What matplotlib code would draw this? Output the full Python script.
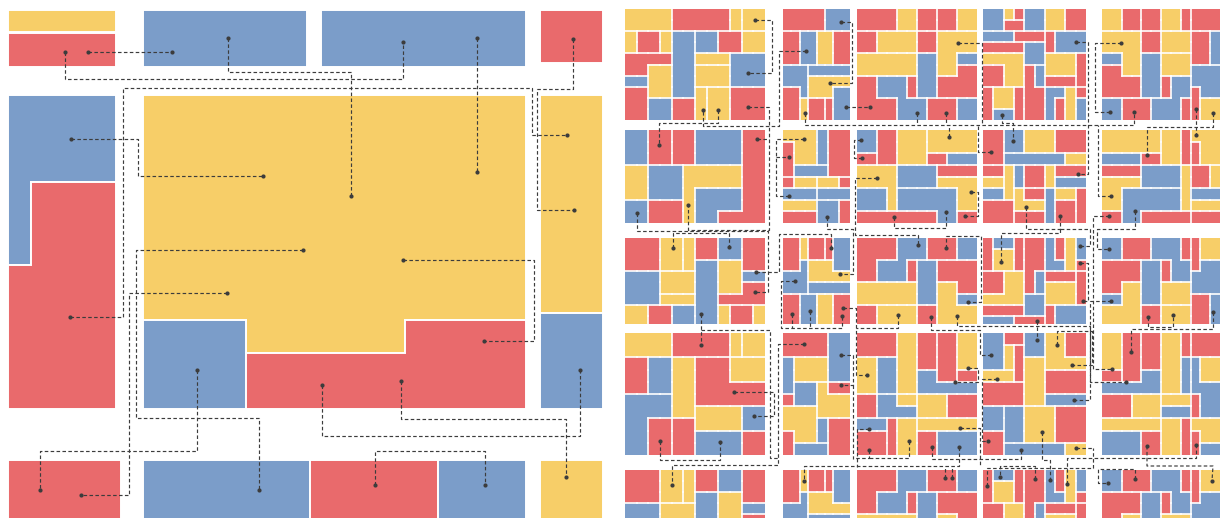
import matplotlib
matplotlib.use("Agg")
import matplotlib.pyplot as plt
import matplotlib.colors as mcolors
import numpy as np
from matplotlib.patches import Polygon, Rectangle
from matplotlib.collections import LineCollection

RED = "#e96a6c"
YELLOW = "#f7ce68"
BLUE = "#7b9dc9"
INK = "#3c3c3c"

palette = {}
for ch in "rRsStT":
    palette[ch] = RED
for ch in "yYzZwW":
    palette[ch] = YELLOW
for ch in "bBcCdD":
    palette[ch] = BLUE

# ---- left panel: big blocks (colour code, outline in pixel units) ----
left_codes = ["y", "r", "b", "b", "r", "b", "r", "y", "b", "r", "y", "b",
              "r", "b", "r", "b", "y"]
left_outlines = [
    [(8, 10), (116, 10), (116, 32), (8, 32)],
    [(8, 33), (116, 33), (116, 67), (8, 67)],
    [(143, 10), (307, 10), (307, 67), (143, 67)],
    [(321, 10), (526, 10), (526, 67), (321, 67)],
    [(540, 10), (603, 10), (603, 63), (540, 63)],
    [(8, 95), (116, 95), (116, 182), (31, 182), (31, 265), (8, 265)],
    [(31, 182), (116, 182), (116, 409), (8, 409), (8, 265), (31, 265)],
    [(143, 95), (526, 95), (526, 320), (405, 320), (405, 353), (246, 353),
     (246, 320), (143, 320)],
    [(143, 320), (246, 320), (246, 409), (143, 409)],
    [(246, 353), (405, 353), (405, 320), (526, 320), (526, 409), (246, 409)],
    [(540, 95), (603, 95), (603, 313), (540, 313)],
    [(540, 313), (603, 313), (603, 409), (540, 409)],
    [(8, 460), (121, 460), (121, 530), (8, 530)],
    [(143, 460), (310, 460), (310, 530), (143, 530)],
    [(310, 460), (438, 460), (438, 530), (310, 530)],
    [(438, 460), (526, 460), (526, 530), (438, 530)],
    [(540, 460), (603, 460), (603, 530), (540, 530)],
]

left_links = [
    [(65, 52), (65, 79), (403, 79), (403, 42)],
    [(88, 52), (172, 52)],
    [(228, 38), (228, 72), (351, 72), (351, 196)],
    [(477, 38), (477, 172)],
    [(573, 39), (573, 89), (537, 89), (537, 210), (574, 210)],
    [(70, 317), (123, 317), (123, 88), (532, 88), (532, 135), (567, 135)],
    [(71, 139), (138, 139), (138, 176), (263, 176)],
    [(303, 250), (136, 250), (136, 418), (259, 418), (259, 490)],
    [(403, 260), (534, 260), (534, 341), (484, 341)],
    [(227, 293), (129, 293), (129, 495), (81, 495)],
    [(197, 370), (197, 451), (40, 451), (40, 490)],
    [(322, 385), (322, 436), (580, 436), (580, 370)],
    [(401, 381), (401, 419), (566, 419), (566, 477)],
    [(375, 485), (375, 451), (485, 451), (485, 485)],
]

# ---- right panel: 5 x 5 mosaic of small treemaps ----
col_spans = [(625, 765), (783, 850), (857, 977), (983, 1086), (1102, 1220)]
row_spans = [(9, 120), (130, 223), (238, 324), (333, 455), (470, 518)]

grids = {
    (0, 0): ["yyyyrrrrrYzz", "yyyyrrrrrYzz", "zrrYbbBBssZZ", "zrrYbbBBssZZ",
             "ttttbbwwwccc", "ttWWbbyyyccc", "ddWWbbyyyccc", "rrWWbbzYYsss",
             "rrCCTTzYYsss", "rrCCTTzYYsss"],
    (0, 1): ["rrrrrbbb", "rrrrrbbb", "ssBBYYtt", "ssBBYYtt", "ssBBYYtt",
             "cccddddd", "cccwwwww", "rrcwwwbb", "rrySSTbb", "rrySSTbb"],
    (0, 2): ["rrrryyttSSzz", "rrrryyttSSzz", "sswwwwRRYYYY", "sswwwwRRYYYY",
             "ZZZZZZBBYYbb", "ZZZZZZBBYYTT", "rrcccRBBTTTT", "rrcccRBBTTTT",
             "rrrrcccSSSdd", "rrrrcccSSSdd"],
    (0, 3): ["bbyrBBYYRR", "bbssBBYYRR", "ccctttSddd", "rrrrbbSddd",
             "wwwwbbyyyT", "RRwwscyyyT", "RRwwscrrrT", "SzztssBBYR",
             "SzztssBTYb", "ScctssBTYb"],
    (0, 4): ["yyrrssYYtRRR", "yyrrssYYtRRR", "zzzzSSwwwrrb", "zzzzSSwwwrrb",
             "cczzBBWWWrrb", "TTzzBBWWWddd", "TTTTBBRCCddd", "TTTTBBRCCsdd",
             "bbrrrCCCtsyy", "bbrrrCCCtsyy"],
    (1, 0): ["bbrrssBBBBRR", "bbrrssBBBBRR", "bbrrssBBBBRR", "yycccwwwwwRR",
             "yycccwwwwwRR", "yycccwddddRR", "CCtttwddddRR", "CCtttwddRRRR"],
    (1, 1): ["yyybrr", "syybrr", "syybrr", "scccrr", "RYYzzt", "BBBddd",
             "wwwCCT", "SSSCCT"],
    (1, 2): ["bbrryyyzzzzz", "bbrryyyzzzzz", "ssrryyyttBBB", "wwwwccccRRRR",
             "wwwwccccYYYY", "dddwCCCCCCYY", "dddwCCCCCCYY", "SSSSSSSSCCTT"],
    (1, 3): ["rrbbyyysss", "rrbbyyysss", "rrBBBBBBYY", "ttwcRRzTTT",
             "ZZwcRRzCCC", "ddwWSSDyyR", "rrrWWWDssR", "rrrTTTDssR"],
    (1, 4): ["yyyyyyYYrzzz", "yyyyyyYYrszz", "bbbbRRYYrszz", "ttttccccwTTW",
             "ZZZZccccwTTW", "ZZCCCCCCwBBB", "ZZCCCCCCwyyy", "SSCCRRRRRrrr"],
    (3, 0): ["yyyyrrrrrYzz", "yyyyrrrrrYzz", "ssbbwwRRRZZZ", "ssbbwwRRRZZZ",
             "ssbbwwRRRRRR", "ccccwwRRRRRR", "ccccwwWWWWBB", "ccttTTWWWWBB",
             "ccttTTCCCCSS", "ccttTTCCCCSS"],
    (3, 1): ["rrrrbb", "rrrrbb", "cyyybb", "cyyybb", "cBBYRR", "sBBYYY",
             "wwwYYY", "wwwCSS", "twwCSS", "tdddSS"],
    (3, 2): ["rrrryyssttzz", "rrrryyssttzz", "YYbbyyssttzz", "YYbbyyBBttRR",
             "YYbbyyBBBBBB", "SSccwwWWWTTT", "SSccccWWWTTT", "dddRZZyyyyyy",
             "rrrRZZssCCCC", "rrrRZZssCCCC"],
    (3, 3): ["bbrrBByyss", "bbYRBByyss", "bbYRzzyyyy", "wwwRzztttt",
             "SSSSzztttt", "SSSSzzcccc", "ddCCZZZTTT", "ddCCZZZTTT",
             "rrCCZZZTTT", "rrDDDDDDWW"],
    (3, 4): ["yyrrssYYtRRR", "yyrrssYYtRRR", "yyrrssYYbBzz", "SSrrccYYbBzz",
             "ccccccYYbBBB", "TTTwwwWWWRBB", "TTTwwwCCCRBB", "ZZZZZZyyszzz",
             "ddddSSyystzz", "ddddSSyystDD"],
}

right_links = [
    [(755, 20), (772, 20), (772, 73), (748, 73)],
    [(841, 22), (852, 22), (852, 83), (830, 83)],
    [(806, 51), (779, 51), (779, 126), (703, 126), (703, 110)],
    [(718, 110), (718, 123), (659, 123), (659, 145)],
    [(748, 107), (769, 107), (769, 230), (688, 230), (688, 205)],
    [(846, 107), (870, 107)],
    [(805, 113), (805, 125), (1134, 125), (1134, 112)],
    [(917, 113), (917, 125)],
    [(946, 113), (946, 125)],
    [(958, 43), (982, 43), (982, 125)],
    [(1076, 42), (1088, 42), (1088, 174), (1078, 174)],
    [(1002, 115), (1002, 123), (1013, 123), (1013, 141)],
    [(1121, 43), (1095, 43), (1095, 112), (1110, 112)],
    [(1196, 109), (1196, 135)],
    [(1213, 113), (1213, 127), (1147, 127), (1147, 155)],
    [(757, 139), (769, 139)],
    [(804, 139), (776, 139), (776, 196), (789, 196)],
    [(776, 157), (789, 157)],
    [(827, 217), (827, 229), (853, 229), (853, 274), (840, 274)],
    [(861, 140), (854, 140), (854, 158), (862, 158)],
    [(949, 137), (949, 125)],
    [(991, 152), (978, 152), (978, 125)],
    [(877, 178), (855, 178), (855, 235), (918, 235), (918, 245)],
    [(894, 217), (894, 228), (946, 228), (946, 212)],
    [(971, 192), (978, 192), (978, 216), (965, 216)],
    [(1026, 207), (1026, 229), (1060, 229), (1060, 216)],
    [(1001, 262), (1001, 233), (1060, 233), (1060, 229)],
    [(1111, 196), (1098, 196), (1098, 125)],
    [(1109, 216), (1093, 216), (1093, 369), (1112, 369)],
    [(1135, 211), (1135, 229), (1097, 229), (1097, 249), (1109, 249)],
    [(673, 248), (673, 233), (729, 233), (729, 247)],
    [(637, 213), (637, 231), (768, 231), (768, 292), (755, 292)],
    [(756, 272), (779, 272), (779, 234), (831, 234), (831, 248)],
    [(795, 281), (781, 281), (781, 328), (842, 328), (842, 316)],
    [(792, 314), (792, 328)],
    [(810, 311), (810, 328)],
    [(843, 308), (856, 308), (856, 375), (867, 375)],
    [(946, 248), (946, 236), (981, 236), (981, 302), (968, 302)],
    [(898, 315), (898, 328), (856, 328)],
    [(931, 317), (931, 330), (980, 330), (980, 355), (991, 355)],
    [(957, 316), (957, 326), (1090, 326), (1090, 400), (1074, 400)],
    [(1037, 321), (1037, 340)],
    [(1080, 246), (1090, 246), (1090, 229), (1060, 229)],
    [(1080, 263), (1088, 263), (1088, 301), (1083, 301)],
    [(1111, 301), (1090, 301), (1090, 382), (1126, 382)],
    [(1148, 317), (1148, 327), (1173, 327), (1173, 315)],
    [(1213, 312), (1213, 329), (1131, 329), (1131, 352)],
    [(701, 314), (701, 345)],
    [(701, 330), (770, 330), (770, 458), (778, 458)],
    [(804, 344), (778, 344), (778, 465), (672, 465), (672, 485)],
    [(734, 392), (774, 392), (774, 416), (754, 416)],
    [(660, 441), (660, 460), (720, 460), (720, 442)],
    [(841, 355), (853, 355), (853, 385), (841, 385)],
    [(853, 385), (853, 459)],
    [(869, 429), (857, 429), (857, 467)],
    [(869, 450), (869, 458), (853, 458)],
    [(909, 441), (909, 458), (869, 458)],
    [(968, 368), (978, 368), (978, 382), (955, 382)],
    [(997, 379), (982, 379), (982, 441), (988, 441)],
    [(932, 447), (932, 459), (1021, 459), (1021, 450)],
    [(960, 428), (980, 428), (980, 466)],
    [(959, 447), (959, 466), (804, 466), (804, 481)],
    [(945, 478), (945, 466)],
    [(952, 478), (952, 466)],
    [(1057, 345), (1057, 331), (1092, 331), (1092, 365), (1072, 365)],
    [(1076, 448), (1093, 448)],
    [(1042, 432), (1042, 460), (1050, 460), (1050, 480)],
    [(1035, 479), (1035, 466), (1000, 466), (1000, 477)],
    [(987, 486), (987, 468), (1093, 468), (1093, 448)],
    [(1067, 484), (1067, 458), (1196, 458), (1196, 445)],
    [(1147, 446), (1147, 466), (1213, 466), (1212, 481)],
    [(1135, 479), (1135, 469), (1098, 469), (1098, 483), (1108, 483)],
]

right_dots = [
    (755, 20), (748, 73), (841, 22), (830, 83), (806, 51), (703, 110),
    (718, 110), (748, 107), (846, 107), (805, 113), (870, 107), (917, 113),
    (946, 113), (958, 43), (1076, 42), (1002, 115), (1121, 43), (1110, 112),
    (1134, 112), (1196, 109), (1213, 113),
    (659, 145), (757, 139), (804, 139), (789, 157), (789, 196), (688, 205),
    (637, 213), (827, 217), (861, 140), (862, 158), (949, 137), (877, 178),
    (894, 217), (946, 212), (971, 192), (965, 216), (991, 152), (1013, 141),
    (1078, 174), (1026, 207), (1060, 216), (1196, 135), (1147, 155),
    (1111, 196), (1109, 216), (1135, 211),
    (673, 248), (729, 247), (756, 272), (755, 292), (795, 281), (792, 314),
    (810, 311), (842, 316), (840, 274), (843, 308), (701, 314), (831, 248),
    (918, 245), (946, 248), (968, 302), (898, 315), (931, 317), (957, 316),
    (1001, 262), (1037, 321), (1080, 246), (1080, 263), (1083, 301),
    (1109, 249), (1111, 301), (1148, 317), (1173, 315), (1213, 312),
    (701, 345), (804, 344), (734, 392), (754, 416), (660, 441), (720, 442),
    (841, 355), (841, 385), (867, 375), (968, 368), (955, 382), (869, 429),
    (869, 450), (909, 441), (932, 447), (960, 428), (959, 447), (991, 355),
    (997, 379), (988, 441), (1021, 450), (1037, 340), (1057, 345),
    (1072, 365), (1074, 400), (1042, 432), (1076, 448), (1131, 352),
    (1112, 369), (1126, 382), (1147, 446), (1196, 445),
    (672, 485), (804, 481), (945, 478), (952, 478), (1000, 477), (1035, 479),
    (1050, 480), (987, 486), (1067, 484), (1135, 479), (1108, 483),
    (1212, 481),
]


def draw_grid(ax, rows, x0, x1, y0, y1, clip=None):
    nr, nc = len(rows), len(rows[0])
    rgb = np.array([[mcolors.to_rgb(palette[c]) for c in row] for row in rows])
    im = ax.imshow(rgb, extent=(x0, x1, y1, y0), interpolation="nearest",
                   aspect="auto", zorder=1)
    w = (x1 - x0) / nc
    h = (y1 - y0) / nr
    segs = []
    for i in range(nr):
        for j in range(nc - 1):
            if rows[i][j] != rows[i][j + 1]:
                xx = x0 + (j + 1) * w
                segs.append([(xx, y0 + i * h), (xx, y0 + (i + 1) * h)])
    for i in range(nr - 1):
        for j in range(nc):
            if rows[i][j] != rows[i + 1][j]:
                yy = y0 + (i + 1) * h
                segs.append([(x0 + j * w, yy), (x0 + (j + 1) * w, yy)])
    lc = LineCollection(segs, colors="white", linewidths=1.2, zorder=2,
                        capstyle="projecting")
    ax.add_collection(lc)
    if clip is not None:
        ax.add_patch(clip)
        im.set_clip_path(clip)
        lc.set_clip_path(clip)


fig = plt.figure(figsize=(12.21, 5.18), dpi=100)
ax = fig.add_axes([0, 0, 1, 1])

# left panel
for code, pts in zip(left_codes, left_outlines):
    ax.add_patch(Polygon(pts, closed=True, facecolor=palette[code],
                         edgecolor="white", linewidth=1.4, zorder=1))

# right panel
src_h = row_spans[0][1] - row_spans[0][0]
for ri, (ya, yb) in enumerate(row_spans):
    for ci, (xa, xb) in enumerate(col_spans):
        if (ri, ci) in grids:
            draw_grid(ax, grids[(ri, ci)], xa, xb, ya, yb)
        else:
            # rows 2 and 4 mirror the first row of tiles
            rows = grids[(0, ci)][::-1]
            if ci == 0:
                rows = [r[::-1] for r in rows]
            clip = Rectangle((xa, ya), xb - xa, yb - ya, facecolor="none",
                             edgecolor="none", transform=ax.transData)
            draw_grid(ax, rows, xa, xb, ya, ya + src_h, clip=clip)

# connectors
for path in left_links + right_links:
    xs, ys = zip(*path)
    ax.plot(xs, ys, color=INK, lw=0.85, ls=(0, (3, 2)), zorder=4,
            solid_capstyle="butt")

dots = [p[0] for p in left_links] + [p[-1] for p in left_links] + right_dots
dx, dy = zip(*dots)
ax.scatter(dx, dy, s=9, color=INK, linewidths=0, zorder=5)

ax.set_xlim(0, 1221)
ax.set_ylim(518, 0)
ax.axis("off")
fig.savefig("out.png", dpi=100, facecolor="white")
